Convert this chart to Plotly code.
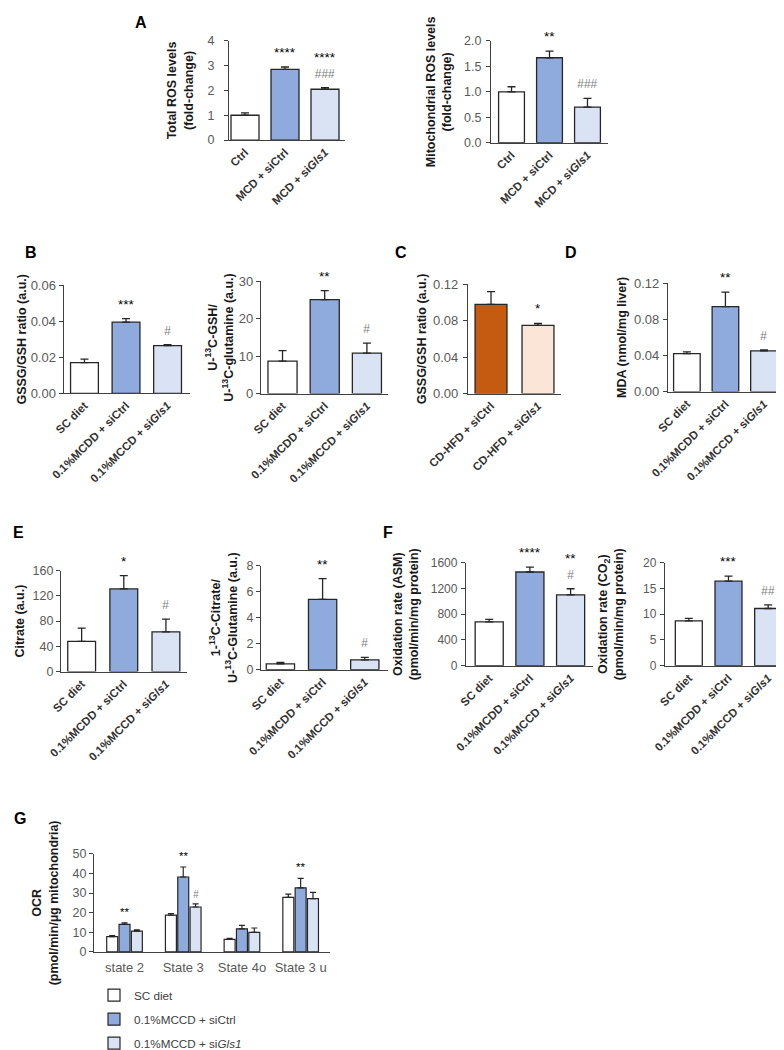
import plotly.graph_objects as go

W, H = 784, 1050

# ---------------- data ----------------
A_cats = ["Ctrl", "MCD + siCtrl", "MCD + si<i>Gls1</i>"]
MCD_cats = ["SC diet", "0.1%MCDD + siCtrl", "0.1%MCCD + si<i>Gls1</i>"]
C_cats = ["CD-HFD + siCtrl", "CD-HFD + si<i>Gls1</i>"]
G_cats = ["state 2", "State 3", "State 4o", "State 3 u"]
G_series = ["SC diet", "0.1%MCCD + siCtrl", "0.1%MCCD + si<i>Gls1</i>"]

A1_vals = [1.0, 2.85, 2.05]
A1_err = [0.10, 0.10, 0.07]
A1_star = ["", "****", "****"]
A1_hash = ["", "", "###"]

A2_vals = [1.0, 1.67, 0.70]
A2_err = [0.10, 0.13, 0.17]
A2_star = ["", "**", ""]
A2_hash = ["", "", "###"]

B1_vals = [0.017, 0.0395, 0.0265]
B1_err = [0.002, 0.002, 0.0006]
B1_star = ["", "***", ""]
B1_hash = ["", "", "#"]

B2_vals = [8.7, 25.1, 10.8]
B2_err = [2.8, 2.4, 2.7]
B2_star = ["", "**", ""]
B2_hash = ["", "", "#"]

C_vals = [0.098, 0.075]
C_err = [0.014, 0.002]
C_star = ["", "*"]
C_hash = ["", ""]

D_vals = [0.042, 0.094, 0.045]
D_err = [0.002, 0.016, 0.001]
D_star = ["", "**", ""]
D_hash = ["", "", "#"]

E1_vals = [48, 131, 63]
E1_err = [21, 21, 20]
E1_star = ["", "*", ""]
E1_hash = ["", "", "#"]

E2_vals = [0.45, 5.4, 0.75]
E2_err = [0.10, 1.6, 0.20]
E2_star = ["", "**", ""]
E2_hash = ["", "", "#"]

F1_vals = [680, 1455, 1100]
F1_err = [40, 75, 95]
F1_star = ["", "****", "**"]
F1_hash = ["", "", "#"]

F2_vals = [8.7, 16.4, 11.1]
F2_err = [0.5, 1.0, 0.7]
F2_star = ["", "***", ""]
F2_hash = ["", "", "##"]

G_sc = [7.8, 18.8, 6.4, 27.8]
G_sc_err = [0.5, 0.8, 0.5, 1.7]
G_ctrl = [14.0, 38.2, 11.8, 32.7]
G_ctrl_err = [0.8, 5.1, 1.7, 4.8]
G_gls = [10.6, 22.9, 10.0, 27.2]
G_gls_err = [0.6, 1.6, 2.2, 3.2]
G_ctrl_star = ["**", "**", "", "**"]
G_gls_hash = ["", "#", "", ""]

# ---------------- style ----------------
FONT = "Liberation Sans, Arial, sans-serif"
WHITE, BLUE, LBLUE = "#FFFFFF", "#8FAADC", "#DAE3F3"
ORANGE, PEACH = "#C55A11", "#FBE5D6"
EDGE = "#262626"
AXIS = "#404040"
TICK = "#595959"
HASHC = "#808080"

def dx(a, b):
    return [a / W, b / W]

def dy(top, bot):
    return [1 - bot / H, 1 - top / H]

TRI = [WHITE, BLUE, LBLUE]
# geometry per panel (pixels): x=(axis x, axis end), y=(top, bottom)
panels = [
    dict(cats=A_cats, vals=A1_vals, err=A1_err, star=A1_star, hsh=A1_hash, cols=TRI,
         x=(221, 337), y=(33.3, 133.3), xr=[-0.4, 2.5], yr=[0, 4], dt=1, fmt="d",
         title="Total ROS levels<br>(fold-change)", bw=0.7, tls=7, ts=11, tf=12.5),
    dict(cats=A_cats, vals=A2_vals, err=A2_err, star=A2_star, hsh=A2_hash, cols=TRI,
         x=(483, 600), y=(33.3, 136), xr=[-0.54, 2.54], yr=[0, 2], dt=0.5, fmt=".1f",
         title="Mitochondrial ROS levels<br>(fold-change)", bw=0.68, tls=2, ts=9, tf=12.5),
    dict(cats=MCD_cats, vals=B1_vals, err=B1_err, star=B1_star, hsh=B1_hash, cols=TRI,
         x=(55.7, 182), y=(280, 389), xr=[-0.5, 2.54], yr=[0, 0.06], dt=0.02, fmt=".2f",
         title="GSSG/GSH ratio (a.u.)", bw=0.67, tls=0, ts=1, tf=13),
    dict(cats=MCD_cats, vals=B2_vals, err=B2_err, star=B2_star, hsh=B2_hash, cols=TRI,
         x=(253, 380), y=(276, 389.3), xr=[-0.51, 2.5], yr=[0, 30], dt=10, fmt="d",
         title="U-<sup>13</sup>C-GSH/<br>U-<sup>13</sup>C-glutamine (a.u.)", bw=0.69, tls=0, ts=2, tf=13),
    dict(cats=C_cats, vals=C_vals, err=C_err, star=C_star, hsh=C_hash, cols=[ORANGE, PEACH],
         x=(460, 553), y=(279, 389.3), xr=[-0.49, 1.49], yr=[0, 0.12], dt=0.04, fmt=".2f",
         title="GSSG/GSH ratio (a.u.)", bw=0.68, tls=2, ts=3, tf=13),
    dict(cats=MCD_cats, vals=D_vals, err=D_err, star=D_star, hsh=D_hash, cols=TRI,
         x=(660, 776), y=(277.7, 387.3), xr=[-0.49, 2.52], yr=[0, 0.12], dt=0.04, fmt=".2f",
         title="MDA (nmol/mg liver)", bw=0.69, tls=1, ts=4, tf=13),
    dict(cats=MCD_cats, vals=E1_vals, err=E1_err, star=E1_star, hsh=E1_hash, cols=TRI,
         x=(53, 179), y=(568, 670), xr=[-0.49, 2.5], yr=[0, 160], dt=40, fmt="d",
         title="Citrate (a.u.)", bw=0.66, tls=0, ts=5, tf=12.5),
    dict(cats=MCD_cats, vals=E2_vals, err=E2_err, star=E2_star, hsh=E2_hash, cols=TRI,
         x=(253, 380), y=(563, 668), xr=[-0.46, 2.55], yr=[0, 8], dt=2, fmt="d",
         title="1-<sup>13</sup>C-Citrate/<br>U-<sup>13</sup>C-Glutamine (a.u.)", bw=0.67, tls=0, ts=6, tf=12.5),
    dict(cats=MCD_cats, vals=F1_vals, err=F1_err, star=F1_star, hsh=F1_hash, cols=TRI,
         x=(458, 585), y=(560, 664), xr=[-0.57, 2.55], yr=[0, 1600], dt=400, fmt="d",
         title="Oxidation rate (ASM)<br>(pmol/min/mg protein)", bw=0.69, tls=1, ts=9, tf=12),
    dict(cats=MCD_cats, vals=F2_vals, err=F2_err, star=F2_star, hsh=F2_hash, cols=TRI,
         x=(657, 782), y=(560, 664), xr=[-0.6, 2.55], yr=[0, 20], dt=5, fmt="d",
         title="Oxidation rate (CO<sub>2</sub>)<br>(pmol/min/mg protein)", bw=0.68, tls=1, ts=16, tf=12),
]

fig = go.Figure()
layout = {}
annotations = []

def axis_pair(i, p, xtick_bold=True, tickangle=-45, xfont=11.5, tfont=12.5):
    xs = "xaxis" if i == 1 else f"xaxis{i}"
    ys = "yaxis" if i == 1 else f"yaxis{i}"
    xa = "x" if i == 1 else f"x{i}"
    ya = "y" if i == 1 else f"y{i}"
    layout[xs] = dict(domain=dx(*p["x"]), range=p["xr"], anchor=ya, showline=True, linecolor=AXIS,
                      linewidth=1.3, ticks="", showgrid=False, zeroline=False, tickangle=tickangle,
                      tickfont=dict(family=FONT, size=xfont, color="#333333",
                                    weight="bold" if xtick_bold else "normal"),
                      automargin=False, fixedrange=True)
    layout[ys] = dict(domain=dy(*p["y"]), range=p["yr"], anchor=xa, showline=True, linecolor=AXIS,
                      linewidth=1.3, ticks="outside", ticklen=4, tickwidth=1.1, tickcolor=AXIS,
                      ticklabelstandoff=p["tls"],
                      dtick=p["dt"], tick0=0, tickformat=p["fmt"], showgrid=False, zeroline=False,
                      tickfont=dict(family=FONT, size=p["tf"], color=TICK),
                      title=dict(text=p["title"], font=dict(family=FONT, size=tfont, color="#1a1a1a",
                                                            weight="bold"), standoff=p["ts"]),
                      automargin=False, fixedrange=True)
    return xa, ya

for i, p in enumerate(panels, start=1):
    xa, ya = axis_pair(i, p)
    fig.add_trace(go.Bar(
        x=p["cats"], y=p["vals"], xaxis=xa, yaxis=ya, width=p["bw"],
        marker=dict(color=p["cols"], line=dict(color=EDGE, width=1.3)),
        error_y=dict(type="data", array=p["err"], arrayminus=[0] * len(p["err"]), symmetric=False,
                     color=EDGE, thickness=1.3, width=4),
        showlegend=False, hoverinfo="skip"))
    for c, v, e, s, h in zip(p["cats"], p["vals"], p["err"], p["star"], p["hsh"]):
        parts = []
        if s:
            parts.append(f"<span style='font-size:13.5px'>{s}</span>")
        if h:
            parts.append(f"<span style='color:{HASHC}'><i>{h}</i></span>")
        if parts:
            annotations.append(dict(x=c, y=v + e, xref=xa, yref=ya, text="<br>".join(parts),
                                    showarrow=False, yanchor="bottom", yshift=5,
                                    font=dict(family=FONT, size=12, color="#000000")))

# ---------------- panel G ----------------
gi = len(panels) + 1
gp = dict(x=(86, 322), y=(854, 953), xr=[-0.52, 3.5], yr=[0, 50], dt=10, fmt="d",
          title="OCR<br>(pmol/min/µg mitochondria)", tls=0, ts=11, tf=12.5)
xa, ya = axis_pair(gi, gp, xtick_bold=False, tickangle=0, tfont=12.5)
layout[f"xaxis{gi}"]["tickfont"] = dict(family=FONT, size=13, color=TICK)
layout[f"xaxis{gi}"]["ticklabelstandoff"] = 3

G_vals_all = [G_sc, G_ctrl, G_gls]
G_err_all = [G_sc_err, G_ctrl_err, G_gls_err]
for k, (name, vals, errs, col) in enumerate(zip(G_series, G_vals_all, G_err_all, TRI)):
    fig.add_trace(go.Bar(
        x=G_cats, y=vals, name=name, xaxis=xa, yaxis=ya, legendgroup=f"g{k}",
        marker=dict(color=col, line=dict(color=EDGE, width=1.2)),
        error_y=dict(type="data", array=errs, arrayminus=[0] * len(errs), symmetric=False,
                     color=EDGE, thickness=1.2, width=3),
        showlegend=True, hoverinfo="skip"))

BARGAP, GROUPGAP = 0.37, 0.11
px_per_cat = (gp["x"][1] - gp["x"][0]) / (gp["xr"][1] - gp["xr"][0])
slot = px_per_cat * (1 - BARGAP) / 3
for c, v, e, s in zip(G_cats, G_ctrl, G_ctrl_err, G_ctrl_star):
    if s:
        annotations.append(dict(x=c, y=v + e, xref=xa, yref=ya, text=s, showarrow=False,
                                yanchor="bottom", yshift=3, font=dict(family=FONT, size=11.5, color="#000000")))
for c, v, e, h in zip(G_cats, G_gls, G_gls_err, G_gls_hash):
    if h:
        annotations.append(dict(x=c, y=v + e, xref=xa, yref=ya, text=f"<i>{h}</i>", showarrow=False,
                                xshift=slot, yanchor="bottom", yshift=2,
                                font=dict(family=FONT, size=10, color=HASHC)))

# panel letters
for letter, (lx, ly) in {"A": (133, 15), "B": (23, 247), "C": (393, 247), "D": (563, 247),
                         "E": (10, 530), "F": (380, 530), "G": (12, 818)}.items():
    annotations.append(dict(x=lx / W, y=1 - ly / H, xref="paper", yref="paper", text=f"<b>{letter}</b>",
                            showarrow=False, xanchor="center", yanchor="middle",
                            font=dict(family=FONT, size=16, color="#000000")))

fig.update_layout(
    width=W, height=H, margin=dict(l=0, r=0, t=0, b=0),
    paper_bgcolor="white", plot_bgcolor="white",
    barmode="group", bargap=BARGAP, bargroupgap=GROUPGAP,
    font=dict(family=FONT),
    showlegend=True,
    legend=dict(x=86 / W, y=1 - 982 / H, xanchor="left", yanchor="top", orientation="v",
                traceorder="grouped", tracegroupgap=5, itemwidth=30,
                font=dict(family=FONT, size=11.7, color="#404040"), bgcolor="rgba(0,0,0,0)"),
    annotations=annotations,
    **layout,
)

fig.write_html("out.html")
